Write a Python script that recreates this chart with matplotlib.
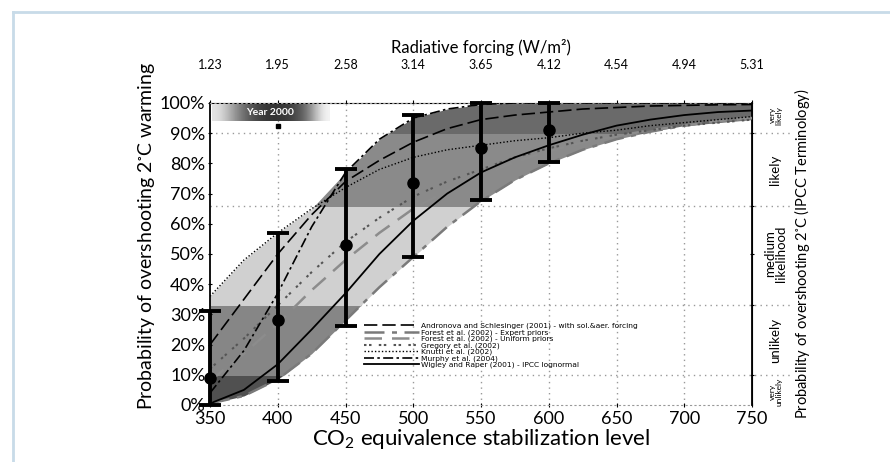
import matplotlib.pyplot as plt
import matplotlib.lines as mlines
import matplotlib.patches as mpatches
import numpy as np

plt.rcParams['font.family'] = ['Lato', 'DejaVu Sans']

# CO2 equivalence levels (ppm) and radiative forcing labels on the top axis
co2 = [350, 375, 400, 425, 450, 475, 500, 525, 550, 575, 600, 625, 650, 675, 700, 725, 750]
tick_co2 = [350, 400, 450, 500, 550, 600, 650, 700, 750]
forcing_labels = ["1.23", "1.95", "2.58", "3.14", "3.65", "4.12", "4.54", "4.94", "5.31"]

# probability (%) of overshooting 2 C
andronova = [20, 35, 50, 63, 74, 81, 87, 91.5, 94.5, 96, 97, 98, 98.5, 99, 99.2, 99.4, 99.5]
forest_expert = [0.5, 3, 8.5, 17, 28, 39, 49, 59, 67.5, 74.5, 80, 84.5, 88, 90.5, 92.5, 94, 95]
forest_uniform = [8, 17, 27, 38, 48, 57, 65, 71, 76, 80.5, 84, 87, 89, 91, 92.5, 94, 95]
gregory = [12, 22, 33, 44, 54, 62, 69, 74, 78, 82, 85, 87.5, 89.5, 91, 92.5, 93.5, 94.5]
knutti = [36, 48, 57, 65, 72, 78, 82, 84.5, 86, 87.5, 88.5, 90, 91, 92.5, 93.5, 94.5, 95.5]
murphy = [4, 18, 37, 59, 77, 88, 95, 98, 99.5, 100, 100, 100, 100, 100, 100, 100, 100]
wigley = [0.5, 5, 13.5, 25, 37, 50, 61, 70, 77, 82, 86, 89.5, 92.5, 94.5, 96, 97, 97.5]

# mean and range markers
bar_co2 = [350, 400, 450, 500, 550, 600]
bar_mean = [9, 28, 53, 73.5, 85, 91]
bar_low = [0, 8, 26, 49, 68, 80.5]
bar_high = [31, 57, 78, 96, 100, 100]

fig = plt.figure(figsize=(8.9, 4.62), dpi=100)
ax = fig.add_axes([0.236, 0.1234, 0.609, 0.6537])

curves = np.array([andronova, forest_expert, forest_uniform, gregory, knutti, murphy, wigley])
lower = curves.min(axis=0)
upper = curves.max(axis=0)

# shaded envelope, darker/lighter per likelihood band
bands = [(0, 10, "#505050"), (10, 33, "#868686"), (33, 66, "#d0d0d0"),
         (66, 90, "#8a8a8a"), (90, 100, "#6a6a6a")]
for y0, y1, c in bands:
    poly = ax.fill_between(co2, lower, upper, color=c, lw=0, zorder=1)
    box = mpatches.Rectangle((350, y0), 400, y1 - y0, transform=ax.transData)
    poly.set_clip_path(box)

# grid
for x in tick_co2[1:-1]:
    ax.axvline(x, color="#999999", ls=(0, (1, 3)), lw=1, zorder=0.5)
for y in [10, 33, 66, 90]:
    ax.plot([350, 778], [y, y], color="#999999", ls=(0, (1, 3)), lw=1,
            zorder=0.5, clip_on=False)

ax.plot(co2, andronova, color="black", lw=1.2, dashes=(8, 3), zorder=3,
        label="Andronova and Schlesinger (2001) - with sol.&aer. forcing")
ax.plot(co2, forest_expert, color="#7a7a7a", lw=1.8, dashes=(8, 3, 2, 3), zorder=3,
        label="Forest et al. (2002) - Expert priors")
ax.plot(co2, forest_uniform, color="#8c8c8c", lw=1.8, dashes=(7, 4), zorder=3,
        label="Forest et al. (2002) - Uniform priors")
ax.plot(co2, gregory, color="#555555", lw=1.5, dashes=(1.2, 1.2, 1.2, 3.5), zorder=3,
        label="Gregory et al. (2002)")
ax.plot(co2, knutti, color="black", lw=1.0, dashes=(1, 1.5), zorder=3,
        label="Knutti et al. (2002)")
ax.plot(co2, murphy, color="black", lw=1.2, dashes=(6, 2, 1.5, 2), zorder=3,
        label="Murphy et al. (2004)")
ax.plot(co2, wigley, color="black", lw=1.3, zorder=3,
        label="Wigley and Raper (2001) - IPCC lognormal")

yerr = [np.array(bar_mean) - np.array(bar_low), np.array(bar_high) - np.array(bar_mean)]
ax.errorbar(bar_co2, bar_mean, yerr=yerr, fmt="o", color="black", ms=8,
            elinewidth=2.8, capsize=8, capthick=2.8, zorder=5, clip_on=False)

# Year 2000 marker
grad = np.array([[0.9, 0.6, 0.35, 0.22, 0.2, 0.25, 0.45, 0.97]])
ax.imshow(grad, cmap="gray", vmin=0, vmax=1, extent=(351.5, 438, 94, 99.5),
          aspect="auto", interpolation="bicubic", zorder=4)
ax.text(394, 96.8, "Year 2000", color="white", fontsize=7.5, fontweight="bold",
        ha="center", va="center", zorder=6)
ax.plot([400], [92.5], "s", color="black", ms=2.5, zorder=6)

ax.set_xlim(350, 750)
ax.set_ylim(0, 100)
ax.set_xticks(tick_co2)
ax.set_yticks(range(0, 101, 10))
ax.set_yticklabels([f"{v}%" for v in range(0, 101, 10)])
ax.tick_params(axis="both", labelsize=13, length=3, direction="inout")
ax.tick_params(axis="x", pad=3)
ax.tick_params(axis="y", pad=2)

for side in ["left", "right"]:
    ax.spines[side].set_linewidth(1.3)
for side in ["top", "bottom"]:
    ax.spines[side].set_color("#999999")
    ax.spines[side].set_linestyle((0, (1, 3)))

ax.set_xlabel("CO$_\\mathregular{2}$ equivalence stabilization level", fontsize=16, labelpad=0)
ax.set_ylabel("Probability of overshooting 2$^\\mathregular{\\circ}$C warming", fontsize=14)
ax.yaxis.set_label_coords(-0.098, 0.56)

top = ax.secondary_xaxis("top")
top.set_xticks(tick_co2, labels=forcing_labels)
top.tick_params(labelsize=9, length=2, pad=21)
top.set_xlabel("Radiative forcing (W/m²)", fontsize=12, labelpad=4)

# right-hand IPCC terminology
right = ax.secondary_yaxis("right")
right.set_yticks([10, 33, 50, 66, 90], labels=[])
right.tick_params(length=3, direction="inout")
terms = [(96, "very\nlikely", 6), (78, "likely", 9.5), (50, "medium\nlikelihood", 9.5),
         (21.5, "unlikely", 9.5), (4.5, "very\nunlikely", 6)]
for y, t, fs in terms:
    ax.text(1.043, y / 100, t, transform=ax.transAxes, rotation=90, ha="center",
            va="center", fontsize=fs, linespacing=0.9)
ax.text(1.092, 0.5, "Probability of overshooting 2$^\\mathregular{\\circ}$C (IPCC Terminology)",
        transform=ax.transAxes, rotation=90, ha="center", va="center", fontsize=10.5)

ax.legend(loc="lower left", bbox_to_anchor=(0.278, 0.11), frameon=False,
          prop={"family": "DejaVu Sans", "size": 5.4},
          handlelength=7.3, handleheight=0.5, handletextpad=0.3, labelspacing=0.0,
          borderpad=0)

# light frame around the figure
fig.add_artist(mlines.Line2D([0.0146, 1.0], [0.975, 0.975], color="#c8dbe8", lw=2))
fig.add_artist(mlines.Line2D([0.0146, 0.0146], [0.0, 0.975], color="#c8dbe8", lw=2))

fig.savefig("out.png", dpi=100)
